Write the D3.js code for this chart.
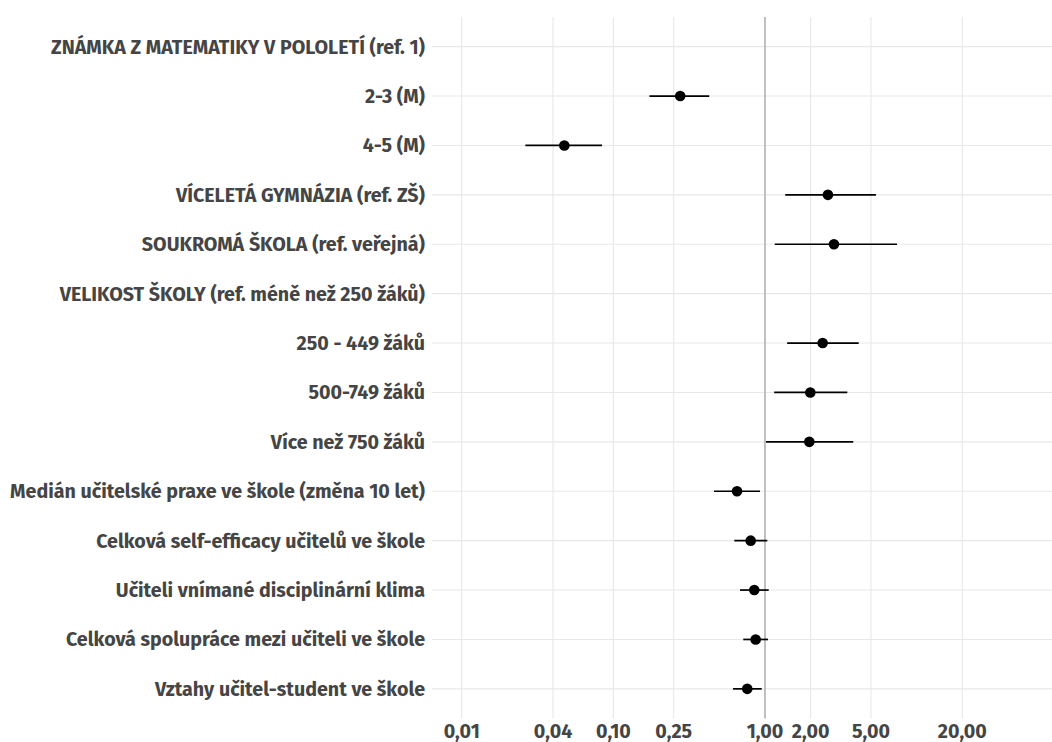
<!DOCTYPE html>
<html>
<head>
<meta charset="utf-8">
<script src="https://cdn.jsdelivr.net/npm/d3@7"></script>
<style>
  html, body { margin: 0; padding: 0; background: #fff; }
  svg { display: block; }
  text { font-family: "Fira Sans", Roboto, "Noto Sans", sans-serif; font-weight: 700; fill: #454545; }
</style>
</head>
<body>
<div id="chart"></div>
<script>
// row labels, top to bottom
const labels = [
  "ZNÁMKA Z MATEMATIKY V POLOLETÍ (ref. 1)",
  "2-3 (M)",
  "4-5 (M)",
  "VÍCELETÁ GYMNÁZIA (ref. ZŠ)",
  "SOUKROMÁ ŠKOLA (ref. veřejná)",
  "VELIKOST ŠKOLY (ref. méně než 250 žáků)",
  "250 - 449 žáků",
  "500-749 žáků",
  "Více než 750 žáků",
  "Medián učitelské praxe ve škole (změna 10 let)",
  "Celková self-efficacy učitelů ve škole",
  "Učiteli vnímané disciplinární klima",
  "Celková spolupráce mezi učiteli ve škole",
  "Vztahy učitel-student ve škole"
];

// odds ratios and 95% CI (null = header row)
const estimates = [null, 0.276, 0.0475, 2.60, 2.85, null, 2.40, 1.99, 1.96, 0.654, 0.805, 0.850, 0.868, 0.764];
const lower     = [null, 0.173, 0.0263, 1.36, 1.16, null, 1.40, 1.15, 1.015, 0.461, 0.628, 0.684, 0.719, 0.615];
const upper     = [null, 0.429, 0.0842, 5.40, 7.42, null, 4.15, 3.49, 3.82, 0.927, 1.036, 1.058, 1.047, 0.951];

const tickValues = [0.01, 0.04, 0.10, 0.25, 1, 2, 5, 20];
const tickLabels = ["0,01", "0,04", "0,10", "0,25", "1,00", "2,00", "5,00", "20,00"];

const width = 1052, height = 742;
const panel = {left: 432, right: 1052, top: 17, bottom: 718.5};

const svg = d3.select("#chart").append("svg")
  .attr("width", width)
  .attr("height", height);

const x = d3.scaleLog()
  .domain([0.00637, 78.1])
  .range([panel.left, panel.right]);

const y = d3.scalePoint()
  .domain(labels)
  .range([panel.top, panel.bottom])
  .padding(0.6);

// grid
const grid = svg.append("g");
grid.selectAll("line.h")
  .data(labels)
  .enter().append("line")
  .attr("class", "h")
  .attr("x1", panel.left).attr("x2", panel.right)
  .attr("y1", d => y(d)).attr("y2", d => y(d))
  .attr("stroke", "#e8e8e8").attr("stroke-width", 1.1);

grid.selectAll("line.v")
  .data(tickValues)
  .enter().append("line")
  .attr("class", "v")
  .attr("x1", d => x(d)).attr("x2", d => x(d))
  .attr("y1", panel.top).attr("y2", panel.bottom)
  .attr("stroke", "#e8e8e8").attr("stroke-width", 1.1);

// reference line at OR = 1
svg.append("line")
  .attr("x1", x(1)).attr("x2", x(1))
  .attr("y1", panel.top).attr("y2", panel.bottom)
  .attr("stroke", "#ababab").attr("stroke-width", 1.4);

const rows = labels.map((l, i) => ({label: l, est: estimates[i], lo: lower[i], hi: upper[i]}))
  .filter(d => d.est !== null);

svg.append("g").selectAll("line")
  .data(rows)
  .enter().append("line")
  .attr("x1", d => x(d.lo)).attr("x2", d => x(d.hi))
  .attr("y1", d => y(d.label)).attr("y2", d => y(d.label))
  .attr("stroke", "#000").attr("stroke-width", 1.7);

svg.append("g").selectAll("circle")
  .data(rows)
  .enter().append("circle")
  .attr("cx", d => x(d.est))
  .attr("cy", d => y(d.label))
  .attr("r", 5.3)
  .attr("fill", "#000");

// y labels
const ylab = svg.append("g").selectAll("text")
  .data(labels)
  .enter().append("text")
  .attr("x", 425)
  .attr("y", d => y(d))
  .attr("dy", "0.35em")
  .attr("text-anchor", "end")
  .style("font-size", "16px")
  .text(d => d);

// fit the font so the longest label spans the same width as the original
const longest = d3.max(ylab.nodes(), n => n.getComputedTextLength());
const fs = 16 * 415 / longest;
ylab.style("font-size", fs + "px");

// x tick labels
svg.append("g").selectAll("text")
  .data(tickValues)
  .enter().append("text")
  .attr("x", d => x(d))
  .attr("y", 738)
  .attr("text-anchor", "middle")
  .style("font-size", fs + "px")
  .text((d, i) => tickLabels[i]);
</script>
</body>
</html>
